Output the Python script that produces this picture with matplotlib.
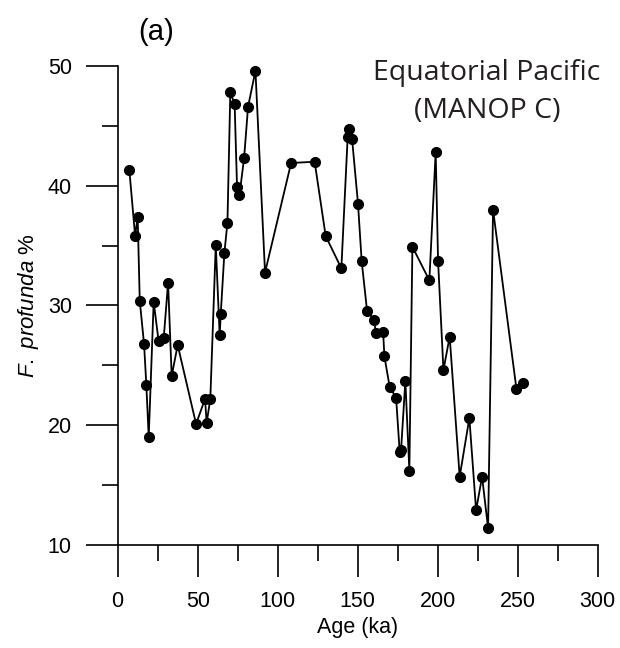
import numpy as np
import matplotlib
matplotlib.use("Agg")
import matplotlib.pyplot as plt

# ==============================
# Data (MANOP C core)
# ==============================
age_ka = [7.3, 10.9, 12.5, 13.8, 16.5, 17.9, 19.4, 22.5, 25.6, 28.8,
          31.5, 33.75, 37.5, 49.0, 54.6, 55.6, 57.9, 61.3, 63.75, 64.4,
          66.7, 68.6, 70.4, 73.1, 74.6, 76.1, 79.0, 81.5, 86.1, 92.1,
          108.4, 123.1, 130.0, 139.8, 143.75, 144.6, 146.5, 150.2, 152.5, 155.9,
          160.4, 161.25, 165.9, 166.7, 170.0, 174.0, 176.25, 177.1, 179.8, 182.3,
          184.2, 194.8, 198.75, 200.25, 203.6, 207.5, 213.75, 219.8, 224.0, 227.75,
          231.5, 234.6, 249.2, 253.1]
profunda_pct = [41.3, 35.8, 37.4, 30.4, 26.75, 23.4, 19.0, 30.3, 27.0, 27.3,
                31.9, 24.1, 26.7, 20.1, 22.2, 20.2, 22.2, 35.05, 27.5, 29.25,
                34.4, 36.9, 47.8, 46.8, 39.9, 39.2, 42.3, 46.6, 49.6, 32.75,
                41.9, 42.0, 35.8, 33.1, 44.1, 44.75, 43.9, 38.5, 33.7, 29.5,
                28.8, 27.7, 27.8, 25.75, 23.2, 22.3, 17.8, 17.9, 23.7, 16.2,
                34.9, 32.1, 42.8, 33.7, 24.6, 27.4, 15.7, 20.6, 12.9, 15.7,
                11.4, 38.0, 23.06, 23.5]

x_ticks = [0, 50, 100, 150, 200, 250, 300]
y_ticks = [10, 20, 30, 40, 50]

# ==============================
# Plot
# ==============================
plt.rcParams['font.family'] = ['Liberation Sans', 'DejaVu Sans']
plt.rcParams['mathtext.fontset'] = 'custom'
plt.rcParams['mathtext.it'] = 'Liberation Sans:italic'
plt.rcParams['mathtext.rm'] = 'Liberation Sans'

fig = plt.figure(figsize=(6.2, 6.48), dpi=100)
ax = fig.add_axes([0.1898, 0.1590, 0.7742, 0.7392])

ax.plot(age_ka, profunda_pct, color="black", lw=1.3, marker="o",
        markersize=7, clip_on=False, zorder=3)

ax.set_xlim(0, 300)
ax.set_ylim(10, 50)
ax.set_xticks(x_ticks)
ax.set_xticks(np.arange(25, 300, 50), minor=True)
ax.set_yticks(y_ticks)
ax.set_yticks(np.arange(15, 50, 10), minor=True)

for side in ["top", "right"]:
    ax.spines[side].set_visible(False)
for side in ["left", "bottom"]:
    ax.spines[side].set_linewidth(1.2)

ax.tick_params(which="major", direction="out", length=23, width=1.2,
               labelsize=15.5, pad=10)
ax.tick_params(which="minor", direction="out", length=11.5, width=1.2)

ax.set_xlabel("Age (ka)", fontsize=15.5, labelpad=4)
ax.set_ylabel(r"$\it{F.\ profunda}$ %", fontsize=16, labelpad=5)

fig.text(156 / 620, 1 - 32 / 648, "(a)", fontsize=21, ha="center", va="center")
fig.text(487 / 620, 1 - 92 / 648, "Equatorial Pacific\n(MANOP C)",
         fontsize=20.5, ha="center", va="center", color="#231f20",
         family=["Open Sans", "DejaVu Sans"], linespacing=1.45)

plt.savefig("out.png", dpi=100)
